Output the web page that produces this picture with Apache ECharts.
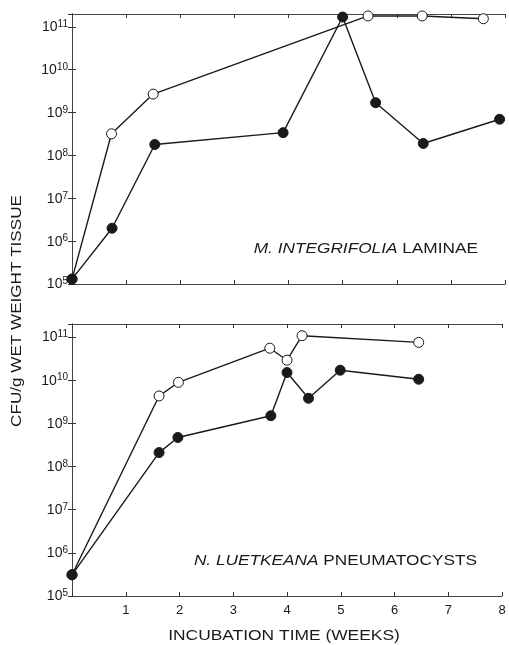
<!DOCTYPE html>
<html>
<head>
<meta charset="utf-8">
<script src="https://cdn.jsdelivr.net/npm/echarts@6/dist/echarts.min.js"></script>
<style>
  html, body { margin: 0; padding: 0; background: #fff; }
  #chart { width: 509px; height: 645px; }
</style>
</head>
<body>
<div id="chart"></div>
<script>
// Incubation time (weeks) and CFU/g wet weight for each tissue
const lamOpenWeeks   = [0, 0.73, 1.5, 5.47, 6.47, 7.6];
const lamOpenCfu     = [1.3e5, 3.2e8, 2.7e9, 1.8e11, 1.8e11, 1.55e11];
const lamFilledWeeks = [0, 0.74, 1.53, 3.9, 5.0, 5.61, 6.49, 7.9];
const lamFilledCfu   = [1.3e5, 2.0e6, 1.8e8, 3.4e8, 1.7e11, 1.7e9, 1.9e8, 7.0e8];

const pneOpenWeeks   = [0, 1.62, 1.98, 3.68, 4.0, 4.28, 6.45];
const pneOpenCfu     = [3.1e5, 4.3e9, 8.9e9, 5.5e10, 2.9e10, 1.07e11, 7.5e10];
const pneFilledWeeks = [0, 1.62, 1.97, 3.7, 4.0, 4.4, 4.99, 6.45];
const pneFilledCfu   = [3.1e5, 2.1e8, 4.7e8, 1.5e9, 1.5e10, 3.8e9, 1.7e10, 1.05e10];

const weekTicks = [0, 1, 2, 3, 4, 5, 6, 7, 8];
const decadeExponents = [5, 6, 7, 8, 9, 10, 11];

const panelTitles = [
  { italic: 'M. INTEGRIFOLIA', plain: ' LAMINAE' },
  { italic: 'N. LUETKEANA', plain: ' PNEUMATOCYSTS' }
];
const xTitle = 'INCUBATION TIME (WEEKS)';
const yTitle = 'CFU/g WET WEIGHT TISSUE';

const INK = '#1a1a1a';
const FONT = '"Liberation Sans", Arial, sans-serif';

const pairs = (xs, ys) => xs.map((x, i) => [x, ys[i]]);

const grids = [
  { left: 72, right: 4, top: 14, height: 270 },
  { left: 72, right: 7, top: 324, height: 272 }
];

function xAxes(gridIndex, withLabels) {
  const common = {
    type: 'value', gridIndex, min: 0, max: 8, interval: 1,
    axisLine: { show: true, lineStyle: { color: '#444', width: 1 } },
    axisTick: { show: true, inside: true, length: 4, lineStyle: { color: '#333' } },
    splitLine: { show: false }
  };
  return [
    Object.assign({}, common, {
      position: 'bottom',
      axisLabel: {
        show: withLabels, color: INK, fontFamily: FONT, fontSize: 13, margin: 8,
        formatter: v => (v === 0 || weekTicks.indexOf(v) < 0) ? '' : String(v)
      }
    }),
    Object.assign({}, common, { position: 'top', axisLabel: { show: false } })
  ];
}

function yAxes(gridIndex) {
  const common = {
    type: 'log', logBase: 10, gridIndex, min: 1e5, max: 2e11, interval: 1,
    axisLine: { show: true, lineStyle: { color: '#444', width: 1 } },
    axisTick: { show: true, inside: true, length: 4, lineStyle: { color: '#333' } },
    minorTick: { show: false },
    splitLine: { show: false }
  };
  return [
    Object.assign({}, common, {
      position: 'left',
      axisLabel: {
        color: INK, fontFamily: FONT, margin: 4,
        formatter: v => {
          const e = Math.round(Math.log10(v));
          return decadeExponents.indexOf(e) < 0 ? '' : '{b|10}{s|' + e + '}';
        },
        rich: {
          b: { fontSize: 14, fontFamily: FONT, color: INK, verticalAlign: 'bottom', lineHeight: 15 },
          s: { fontSize: 10, fontFamily: FONT, color: INK, verticalAlign: 'top', lineHeight: 15, padding: [0, 0, 5, 0] }
        }
      }
    }),
    Object.assign({}, common, { position: 'right', axisLabel: { show: false } })
  ];
}

function series(name, data, xi, yi, filled) {
  return {
    name, type: 'line', data, xAxisIndex: xi, yAxisIndex: yi,
    symbol: 'circle', symbolSize: 10,
    lineStyle: { color: INK, width: 1.4 },
    itemStyle: { color: filled ? INK : '#fff', borderColor: INK, borderWidth: 1 },
    z: filled ? 4 : 3,
    animation: false
  };
}

function panelLabel(t, x, y) {
  return {
    type: 'text', x, y, scaleX: 1.15, scaleY: 1,
    style: {
      text: '{i|' + t.italic + '}{p|' + t.plain + '}',
      align: 'right', verticalAlign: 'middle',
      rich: {
        i: { fontFamily: FONT, fontStyle: 'italic', fontSize: 15, fill: INK },
        p: { fontFamily: FONT, fontSize: 15, fill: INK }
      }
    }
  };
}

const chart = echarts.init(document.getElementById('chart'), null, { renderer: 'canvas' });

chart.setOption({
  backgroundColor: '#fff',
  animation: false,
  grid: grids,
  xAxis: [...xAxes(0, false), ...xAxes(1, true)],
  yAxis: [...yAxes(0), ...yAxes(1)],
  graphic: [
    panelLabel(panelTitles[0], 478, 249),
    panelLabel(panelTitles[1], 477, 561),
    {
      type: 'text', x: 284, y: 636, scaleX: 1.16, scaleY: 1,
      style: {
        text: xTitle, fontFamily: FONT, fontSize: 15, fill: INK,
        align: 'center', verticalAlign: 'middle'
      }
    },
    {
      type: 'text', x: 17, y: 311, rotation: Math.PI / 2, scaleX: 1.14, scaleY: 1,
      style: {
        text: yTitle, fontFamily: FONT, fontSize: 15, fill: INK,
        align: 'center', verticalAlign: 'middle'
      }
    }
  ],
  series: [
    series('open-laminae', pairs(lamOpenWeeks, lamOpenCfu), 0, 0, false),
    series('filled-laminae', pairs(lamFilledWeeks, lamFilledCfu), 0, 0, true),
    series('open-pneumatocysts', pairs(pneOpenWeeks, pneOpenCfu), 2, 2, false),
    series('filled-pneumatocysts', pairs(pneFilledWeeks, pneFilledCfu), 2, 2, true)
  ]
});
</script>
</body>
</html>
